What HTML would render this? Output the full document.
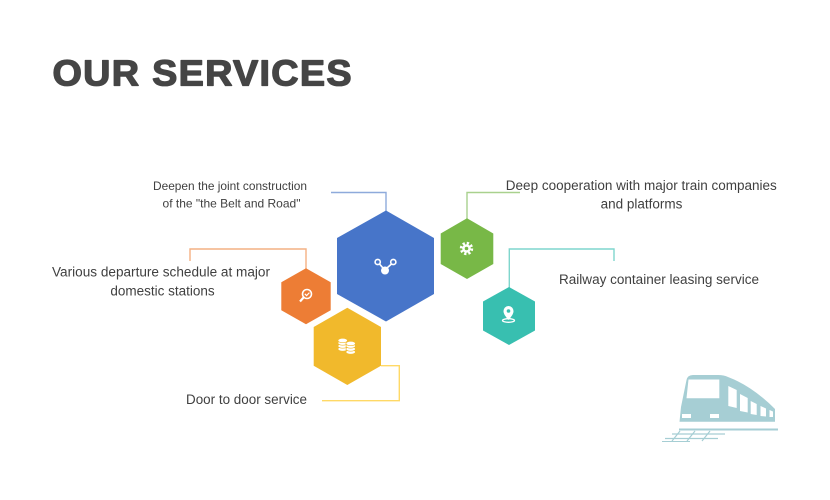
<!DOCTYPE html>
<html><head><meta charset="utf-8"><style>
html,body{margin:0;padding:0;background:#fff;}
svg{display:block;}
text{font-family:"Liberation Sans",Arial,sans-serif;fill:#404040;}
</style></head><body>
<svg width="830" height="500" viewBox="0 0 830 500" xmlns="http://www.w3.org/2000/svg">
<rect width="830" height="500" fill="#fff"/>
<g transform="scale(1.05,1)">
<text x="50" y="85.5" font-size="36" font-weight="bold" textLength="284.8" lengthAdjust="spacing" style="fill:#454545;stroke:#454545;stroke-width:1.3;stroke-linejoin:round">OUR SERVICES</text>
</g>

<!-- connectors -->
<g fill="none" stroke-width="1.4">
<polyline points="331,192.5 386,192.5 386,211" stroke="#8eaadb"/>
<polyline points="520,192.5 467,192.5 467,219" stroke="#a9d18e"/>
<polyline points="190,261 190,249 306,249 306,269" stroke="#f4b183"/>
<polyline points="614,261 614,249 509.3,249 509.3,288" stroke="#7fd6cd"/>
<polyline points="381,365.7 399.3,365.7 399.3,400.7 322,400.7" stroke="#ffd966"/>
</g>

<!-- hexagons -->
<polygon points="386,210.5 434,238 434,294 386,321.5 337,294 337,238" fill="#4775c9"/>
<polygon points="467,218.3 493.3,233.5 493.3,264 467,279 440.7,264 440.7,233.5" fill="#78b847"/>
<polygon points="509,287 535,301.5 535,330.5 509,345 483,330.5 483,301.5" fill="#38bfb0"/>
<polygon points="306,268.3 330.7,282.3 330.7,310.3 306,324.3 281.3,310.3 281.3,282.3" fill="#ed7d35"/>
<polygon points="347.3,307.7 381,327 381,365.7 347.3,385 313.7,365.7 313.7,327" fill="#f1b92c"/>

<!-- icons -->
<g stroke="#fff" fill="none" stroke-width="1.6">
 <circle cx="377.7" cy="262" r="2.6"/>
 <circle cx="393.3" cy="262" r="2.6"/>
 <line x1="379.5" y1="264" x2="383" y2="268"/>
 <line x1="391.5" y1="264" x2="387" y2="268"/>
</g>
<circle cx="385" cy="270.5" r="4" fill="#fff"/>

<g stroke="#fff" fill="none" stroke-width="1.6">
 <circle cx="307" cy="294" r="4.5"/>
 <line x1="303.8" y1="297.3" x2="300" y2="301.5" stroke-width="2.2"/>
 <polyline points="304.8,293.8 306.6,295.6 309.4,292.6" stroke-width="1.2"/>
</g>

<g fill="#fff" stroke="#f1b92c" stroke-width="0.7">
 <ellipse cx="342.7" cy="349" rx="4.8" ry="2.2"/>
 <ellipse cx="342.7" cy="346" rx="4.8" ry="2.2"/>
 <ellipse cx="342.7" cy="343" rx="4.8" ry="2.2"/>
 <ellipse cx="342.7" cy="340.5" rx="4.8" ry="2.2"/>
 <ellipse cx="350.7" cy="352" rx="4.8" ry="2.2"/>
 <ellipse cx="350.7" cy="349" rx="4.8" ry="2.2"/>
 <ellipse cx="350.7" cy="346" rx="4.8" ry="2.2"/>
 <ellipse cx="350.7" cy="343.5" rx="4.8" ry="2.2"/>
</g>

<g>
 <circle cx="466.5" cy="248.5" r="5.2" fill="none" stroke="#fff" stroke-width="3" stroke-dasharray="2.2 1.9"/>
 <circle cx="466.5" cy="248.5" r="4.3" fill="#fff"/>
 <circle cx="466.5" cy="248.5" r="1.8" fill="#78b847"/>
</g>

<g>
 <path d="M508.5,320 C505,316 503.5,313.5 503.5,311 A5,5 0 0 1 513.5,311 C513.5,313.5 512,316 508.5,320 Z" fill="#fff"/>
 <circle cx="508.5" cy="311" r="1.8" fill="#38bfb0"/>
 <ellipse cx="508.5" cy="320.5" rx="6" ry="1.8" fill="none" stroke="#fff" stroke-width="1.3"/>
</g>

<!-- labels -->
<text x="230" y="190" font-size="12" text-anchor="middle" textLength="154" lengthAdjust="spacingAndGlyphs">Deepen the joint construction</text>
<text x="231.5" y="207.5" font-size="12" text-anchor="middle">of the "the Belt and Road"</text>
<text x="161" y="276.5" font-size="13.5" text-anchor="middle" textLength="218" lengthAdjust="spacingAndGlyphs">Various departure schedule at major</text>
<text x="162.5" y="295.5" font-size="13.5" text-anchor="middle">domestic stations</text>
<text x="641.3" y="190" font-size="13.5" text-anchor="middle" textLength="271" lengthAdjust="spacingAndGlyphs">Deep cooperation with major train companies</text>
<text x="641.5" y="208.5" font-size="13.5" text-anchor="middle">and platforms</text>
<text x="559" y="284" font-size="13.5" textLength="200" lengthAdjust="spacingAndGlyphs">Railway container leasing service</text>
<text x="186" y="404" font-size="13.5" textLength="121" lengthAdjust="spacingAndGlyphs">Door to door service</text>

<!-- train -->
<g fill="#a6ced4">
 <path d="M679.5,421.7 L775,421.7 L775,409 Q752,386 728,377 Q724,375 718,375 L693,375 Q687.5,375 686.5,380 L681,407 Z"/>
</g>
<g fill="#fff">
 <polygon points="688.5,379.5 719.3,379.5 719.3,398.3 686.5,398.3"/>
 <rect x="682" y="414" width="9" height="4"/>
 <rect x="710" y="414" width="9" height="4"/>
 <polygon points="728.3,386 736.7,390 736.7,408 728.3,406"/>
 <polygon points="740,394 747.7,398 747.7,412.5 740,411"/>
 <polygon points="750.7,401 756.7,404 756.7,415 750.7,414"/>
 <polygon points="760.5,406 766,408.5 766,416.5 760.5,416"/>
 <polygon points="769.5,410 773,411.5 773,417 769.5,417"/>
</g>
<g stroke="#a6ced4" fill="none">
 <line x1="679" y1="429.5" x2="778" y2="429.5" stroke-width="2"/>
 <line x1="672" y1="434" x2="725" y2="434" stroke-width="1.2"/>
 <line x1="665" y1="438.5" x2="718" y2="438.5" stroke-width="1.2"/>
 <line x1="680" y1="431" x2="672" y2="441" stroke-width="1.2"/>
 <line x1="695" y1="431" x2="687" y2="441" stroke-width="1.2"/>
 <line x1="710" y1="431" x2="702" y2="441" stroke-width="1.2"/>
 <line x1="662" y1="441.5" x2="690" y2="441.5" stroke-width="1"/>
</g>
</svg>
</body></html>
